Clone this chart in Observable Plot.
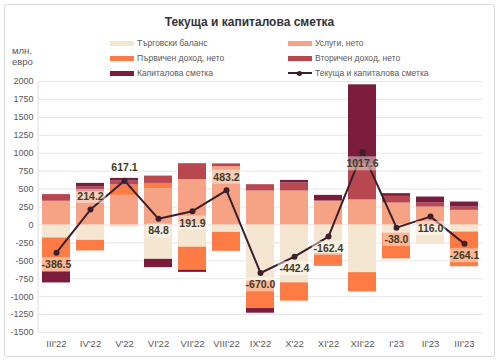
<!DOCTYPE html>
<html>
<head>
<meta charset="utf-8">
<script src="https://cdn.jsdelivr.net/npm/d3@7"></script>
<script src="https://cdn.jsdelivr.net/npm/@observablehq/plot@0.6"></script>
<style>
  html, body { margin: 0; padding: 0; background: #fff; }
  #wrap { position: relative; width: 499px; height: 364px; overflow: hidden;
          font-family: "Liberation Sans Narrow", "Liberation Sans", Arial, sans-serif; }
  #border { position: absolute; left: 4px; top: 4px; width: 489px; height: 351px;
            border: 1px solid #d9d9d9; border-radius: 3px; }
  #title { position: absolute; left: 0; width: 499px; top: 15px; text-align: center;
           font-size: 12px; font-weight: bold; color: #333; }
  #unit { position: absolute; left: 12px; top: 45px; font-size: 9.5px; color: #595959; line-height: 11px; }
  .lg { position: absolute; font-size: 8.5px; color: #595959; white-space: nowrap; height: 10px; line-height: 10px; }
  .sw { position: absolute; left: 0; width: 24px; height: 5px; top: 2.5px; }
  .sl { position: absolute; left: 0; width: 24px; height: 2px; top: 4px; }
  .sd { position: absolute; left: 9px; width: 5px; height: 5px; top: 2.5px; border-radius: 50%; }
  .lt { position: absolute; left: 27px; top: 0; }
  #chart { position: absolute; left: 0; top: 70px; }
</style>
</head>
<body>
<div id="wrap">
  <div id="border"></div>
  <div id="title">Текуща и капиталова сметка</div>
  <div id="unit">млн.<br>евро</div>
  <div id="legend"></div>
  <div id="chart"></div>
</div>
<script>
const categories = ["III'22","IV'22","V'22","VI'22","VII'22","VIII'22","IX'22","X'22","XI'22","XII'22","I'23","II'23","III'23"];
const seriesNames = ["Търговски баланс","Услуги, нето","Първичен доход, нето","Вторичен доход, нето","Капиталова сметка"];
const lineName = "Текуща и капиталова сметка";
const trade     = [-182, -215, -32, -480, -310, -103, -781, -807, -400, -665, -112, -273, -99];
const services  = [330, 458, 412, 505, 631, 814, 473, 473, 333, 348, 305, 249, 203];
const primary   = [-474, -148, 144, 74, -320, -265, -385, -256, -163, -270, -362, 0, -484];
const secondary = [93, 70, 56, 102, 223, 37, 88, 111, -11, 496, 93, 56, 46];
const capital   = [-153, 51, 37, -116, -32, 0, -65, 37, 79, 1110, 38, 84, 70];
const total     = [-386.5, 214.2, 617.1, 84.8, 191.9, 483.2, -670.0, -442.4, -162.4, 1017.6, -38.0, 116.0, -264.1];
const yTicks = [-1500,-1250,-1000,-750,-500,-250,0,250,500,750,1000,1250,1500,1750,2000];

const colors = ["#f5e6d1", "#f5a384", "#fd7c46", "#b8474f", "#7b1c3d"];
const lineColor = "#3b1f2c";
const seriesValues = [trade, services, primary, secondary, capital];

const rows = [];
categories.forEach((c, i) => {
  seriesNames.forEach((s, j) => rows.push({cat: c, series: s, value: seriesValues[j][i]}));
});
const totals = categories.map((c, i) => ({cat: c, value: total[i]}));
const aboveSet = new Set(["IV'22", "V'22", "VIII'22"]);

// legend
const legendItems = [
  {name: seriesNames[0], color: colors[0], x: 110, y: 38},
  {name: seriesNames[1], color: colors[1], x: 288, y: 38},
  {name: seriesNames[2], color: colors[2], x: 110, y: 53},
  {name: seriesNames[3], color: colors[3], x: 288, y: 53},
  {name: seriesNames[4], color: colors[4], x: 110, y: 68},
  {name: lineName, color: lineColor, x: 288, y: 68, line: true}
];
const lg = document.getElementById("legend");
legendItems.forEach(it => {
  const d = document.createElement("div");
  d.className = "lg";
  d.style.left = it.x + "px"; d.style.top = it.y + "px";
  if (it.line) {
    d.innerHTML = `<div class="sl" style="background:${it.color}"></div><div class="sd" style="background:${it.color}"></div><div class="lt">${it.name}</div>`;
  } else {
    d.innerHTML = `<div class="sw" style="background:${it.color}"></div><div class="lt">${it.name}</div>`;
  }
  lg.append(d);
});

const chart = Plot.plot({
  width: 499,
  height: 294,
  marginTop: 11,
  marginBottom: 32,
  marginLeft: 38,
  marginRight: 17,
  style: {fontFamily: '"Liberation Sans Narrow", "Liberation Sans", Arial, sans-serif', color: "#595959", background: "transparent"},
  x: {domain: categories, paddingInner: 0.19, paddingOuter: 0.095, label: null},
  y: {domain: [-1500, 2000], label: null},
  color: {domain: seriesNames, range: colors},
  marks: [
    Plot.gridY(yTicks, {stroke: "#e6e6e6", strokeOpacity: 1}),
    Plot.barY(rows, {x: "cat", y: "value", fill: "series"}),
    Plot.line(totals, {x: "cat", y: "value", stroke: lineColor, strokeWidth: 2}),
    Plot.dot(totals, {x: "cat", y: "value", fill: lineColor, r: 3}),
    Plot.text(totals.filter(d => aboveSet.has(d.cat)), {x: "cat", y: "value", text: d => d.value.toFixed(1), dy: -13, fill: "#403c1e", fontWeight: "bold", fontSize: 10.5}),
    Plot.text(totals.filter(d => !aboveSet.has(d.cat)), {x: "cat", y: "value", text: d => d.value.toFixed(1), dy: 12, fill: "#403c1e", fontWeight: "bold", fontSize: 10.5}),
    Plot.axisY(yTicks, {tickSize: 0, tickPadding: 5, fontSize: 9, fill: "#595959", label: null, tickFormat: d => String(d)}),
    Plot.axisX({tickSize: 0, tickPadding: 8, fontSize: 9.5, fill: "#595959", label: null})
  ]
});
document.getElementById("chart").append(chart);

// label background boxes
const ns = "http://www.w3.org/2000/svg";
chart.querySelectorAll('g[aria-label="text"] text').forEach(t => {
  const b = t.getBBox();
  const r = document.createElementNS(ns, "rect");
  r.setAttribute("x", b.x - 2);
  r.setAttribute("y", b.y - 1);
  r.setAttribute("width", b.width + 4);
  r.setAttribute("height", b.height + 2);
  r.setAttribute("fill", "#ffffff");
  r.setAttribute("fill-opacity", "0.45");
  if (t.getAttribute("transform")) r.setAttribute("transform", t.getAttribute("transform"));
  t.parentNode.insertBefore(r, t);
});
// left axis line
const ln = document.createElementNS(ns, "line");
ln.setAttribute("x1", 38); ln.setAttribute("x2", 38);
ln.setAttribute("y1", 11); ln.setAttribute("y2", 262);
ln.setAttribute("stroke", "#e0e0e0");
chart.insertBefore(ln, chart.firstChild.nextSibling);
</script>
</body>
</html>
